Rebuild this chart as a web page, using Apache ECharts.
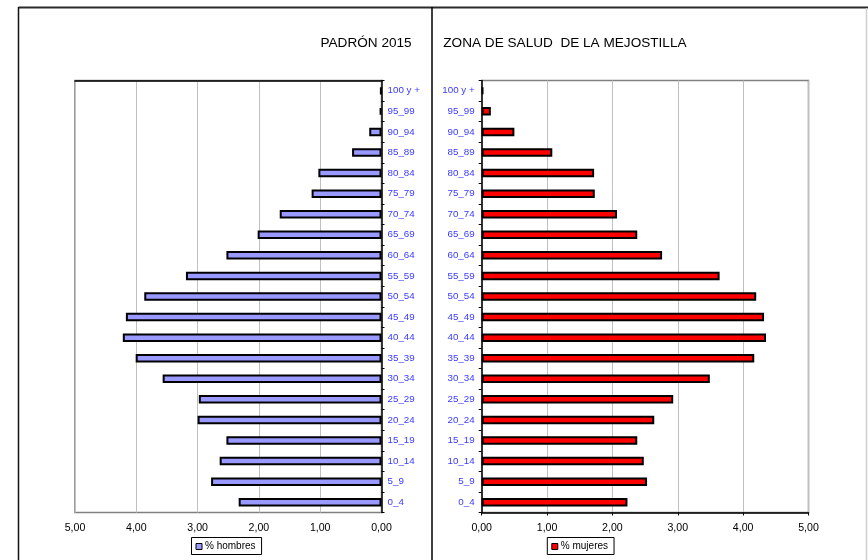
<!DOCTYPE html>
<html>
<head>
<meta charset="utf-8">
<script src="https://cdn.jsdelivr.net/npm/echarts@6/dist/echarts.min.js"></script>
<style>
html,body{margin:0;padding:0;background:#fff;}
#chart{width:868px;height:560px;}
</style>
</head>
<body>
<div id="chart"></div>
<script>
const categories = ['0_4','5_9','10_14','15_19','20_24','25_29','30_34','35_39','40_44','45_49','50_54','55_59','60_64','65_69','70_74','75_79','80_84','85_89','90_94','95_99','100 y +'];
const hombres = [2.33, 2.78, 2.64, 2.53, 3.00, 2.98, 3.57, 4.01, 4.22, 4.17, 3.87, 3.19, 2.53, 2.02, 1.66, 1.14, 1.03, 0.48, 0.20, 0.03, 0.02];
const mujeres = [2.23, 2.53, 2.48, 2.38, 2.64, 2.93, 3.49, 4.17, 4.35, 4.32, 4.20, 3.64, 2.76, 2.38, 2.07, 1.73, 1.72, 1.08, 0.50, 0.14, 0.025];
const xTicks = [0, 1, 2, 3, 4, 5];
const titleLeft = 'PADRÓN 2015';
const titleRight = 'ZONA DE SALUD  DE LA MEJOSTILLA';
const nameH = '% hombres';
const nameM = '% mujeres';

const FONT = 'Arial, "Liberation Sans", sans-serif';
const fmt = v => v.toFixed(2).replace('.', ',');
const xMin = xTicks[0], xMax = xTicks[xTicks.length - 1], xInt = xTicks[1] - xTicks[0];

const chart = echarts.init(document.getElementById('chart'), null, {renderer: 'canvas'});
const legendBase = {
  orient: 'horizontal', itemWidth: 6, itemHeight: 6, icon: 'rect',
  padding: [4, 6, 3, 4], borderColor: '#000', borderWidth: 1,
  itemStyle: {borderColor: '#000', borderWidth: 1},
  textStyle: {fontFamily: FONT, fontSize: 10, color: '#000', padding: [0,0,0,-2]}
};
const option = {
  animation: false,
  backgroundColor: '#fff',
  title: [
    {text: titleLeft, left: 320.5, top: 36, padding: 0,
     textStyle: {fontFamily: FONT, fontSize: 13.6, fontWeight: 'normal', color: '#000'}},
    {text: titleRight, left: 443.3, top: 36, padding: 0,
     textStyle: {fontFamily: FONT, fontSize: 13.6, fontWeight: 'normal', color: '#000'}}
  ],
  legend: [
    Object.assign({data: [nameH], left: 191.5, top: 537.5}, legendBase),
    Object.assign({data: [nameM], left: 547.3, top: 537.5}, legendBase)
  ],
  grid: [
    {left: 75, right: 868 - 381.5, top: 80.5, bottom: 560 - 512.5,
     show: true, borderColor: '#808080', borderWidth: 1.5, backgroundColor: 'transparent'},
    {left: 481.7, right: 868 - 808.5, top: 80.5, bottom: 560 - 512.5,
     show: true, borderColor: '#808080', borderWidth: 1.5, backgroundColor: 'transparent'}
  ],
  xAxis: [
    {type: 'value', gridIndex: 0, position: 'bottom', inverse: true,
     min: xMin, max: xMax, interval: xInt,
     axisLine: {show: false}, axisTick: {show: false},
     axisLabel: {formatter: fmt, fontFamily: FONT, fontSize: 10.6, color: '#000', margin: 10},
     splitLine: {show: true, lineStyle: {color: '#c0c0c0', width: 1}}},
    {type: 'value', gridIndex: 1, position: 'bottom',
     min: xMin, max: xMax, interval: xInt,
     axisLine: {show: true, onZero: false, lineStyle: {color: '#000', width: 1.5}},
     axisTick: {show: true, length: 3, lineStyle: {color: '#000', width: 1}},
     axisLabel: {formatter: fmt, fontFamily: FONT, fontSize: 10.6, color: '#000', margin: 10},
     splitLine: {show: true, lineStyle: {color: '#c0c0c0', width: 1}}},
    {type: 'value', gridIndex: 0, position: 'top', inverse: true,
     min: xMin, max: xMax, interval: xInt,
     axisLine: {show: true, onZero: false, lineStyle: {color: '#000', width: 1.5}},
     axisTick: {show: false}, axisLabel: {show: false}, splitLine: {show: false}}
  ],
  yAxis: [
    {type: 'category', gridIndex: 0, position: 'right', data: categories,
     axisLine: {show: true, onZero: false, lineStyle: {color: '#000', width: 1.5}},
     axisTick: {show: true, length: 3, lineStyle: {color: '#000', width: 1}},
     axisLabel: {fontFamily: FONT, fontSize: 9.8, color: '#3a3aff', margin: 6, interval: 0}},
    {type: 'category', gridIndex: 1, position: 'left', data: categories,
     axisLine: {show: true, onZero: false, lineStyle: {color: '#000', width: 1.5}},
     axisTick: {show: true, length: 3, lineStyle: {color: '#000', width: 1}},
     axisLabel: {fontFamily: FONT, fontSize: 9.8, color: '#3a3aff', margin: 7, interval: 0}}
  ],
  series: [
    {name: nameH, type: 'bar', xAxisIndex: 0, yAxisIndex: 0, data: hombres,
     barWidth: 8.5, itemStyle: {color: '#9999ff', borderColor: '#000', borderWidth: 2}},
    {name: nameM, type: 'bar', xAxisIndex: 1, yAxisIndex: 1, data: mujeres,
     barWidth: 8.5, itemStyle: {color: '#ff0000', borderColor: '#000', borderWidth: 2}}
  ],
  graphic: [
    {type: 'line', shape: {x1: 18.5, y1: 7.5, x2: 868, y2: 7.5}, style: {stroke: '#2a2a2a', lineWidth: 2}},
    {type: 'line', shape: {x1: 18.5, y1: 7, x2: 18.5, y2: 560}, style: {stroke: '#111', lineWidth: 1.5}},
    {type: 'line', shape: {x1: 866.5, y1: 8, x2: 866.5, y2: 560}, style: {stroke: '#cfcfcf', lineWidth: 1.5}},
    {type: 'line', shape: {x1: 432, y1: 7, x2: 432, y2: 560}, style: {stroke: '#000', lineWidth: 1.5}}
  ]
};
chart.setOption(option);
</script>
</body>
</html>
